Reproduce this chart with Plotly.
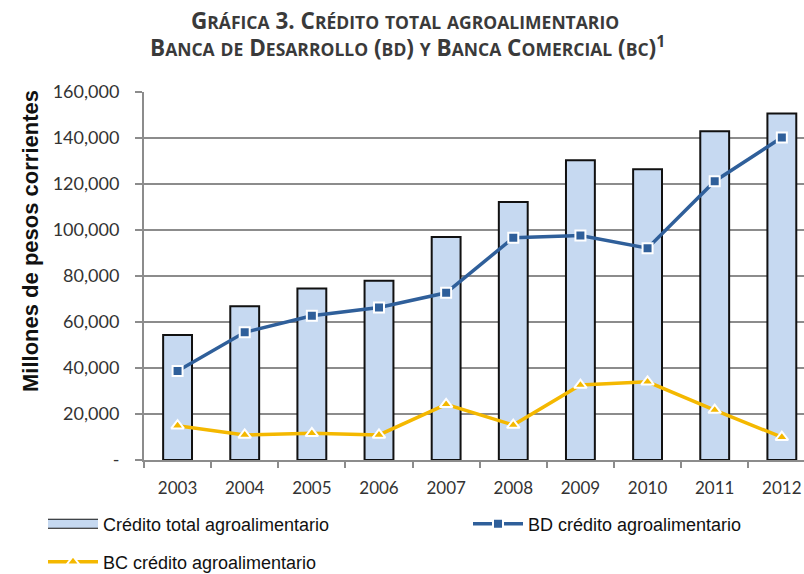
import plotly.graph_objects as go

# Valores (millones de pesos corrientes)
years = ["2003", "2004", "2005", "2006", "2007", "2008", "2009", "2010", "2011", "2012"]
credito_total = [54300, 66900, 74600, 77900, 97000, 112200, 130300, 126400, 142900, 150600]
bd_credito = [38700, 55500, 62700, 66300, 72700, 96600, 97600, 92100, 121200, 140200]
bc_credito = [14900, 10900, 11600, 10900, 24200, 15200, 32600, 34000, 21700, 9900]
y_ticks = [0, 20000, 40000, 60000, 80000, 100000, 120000, 140000, 160000]
y_tick_labels = ["-", "20,000", "40,000", "60,000", "80,000", "100,000", "120,000", "140,000", "160,000"]

x_pos = list(range(len(years)))

BLUE = "#2f5f9a"
GOLD = "#f4b800"
BAR_FILL = "#c6d9f1"
NARROW = "Liberation Sans Narrow, Arial Narrow, Liberation Sans, sans-serif"
SC = "Lato, Open Sans, sans-serif"

W, H = 804, 574
L, T, B = 144, 92, 114
PW, PH = W - L, H - T - B

fig = go.Figure()

fig.add_trace(
    go.Bar(
        x=x_pos,
        y=credito_total,
        name="Crédito total agroalimentario",
        width=0.43,
        marker=dict(color=BAR_FILL, line=dict(color="#111111", width=2)),
        showlegend=False,
    )
)
fig.add_trace(
    go.Scatter(
        x=x_pos,
        y=bd_credito,
        mode="lines+markers",
        name="BD crédito agroalimentario",
        line=dict(color=BLUE, width=3.5),
        marker=dict(symbol="square", size=10, color=BLUE, line=dict(color="white", width=2)),
        legend="legend2",
    )
)
fig.add_trace(
    go.Scatter(
        x=x_pos,
        y=bc_credito,
        mode="lines+markers",
        name="BC crédito agroalimentario",
        line=dict(color=GOLD, width=3.5),
        marker=dict(symbol="triangle-up", size=11, color=GOLD, line=dict(color="white", width=2)),
        legend="legend3",
    )
)

# Entrada de leyenda de las barras: rectángulo ancho con borde negro
fig.add_trace(
    go.Scatter(
        x=[None], y=[None], mode="lines", name="Crédito total agroalimentario",
        line=dict(color="#111111", width=12), legend="legend",
    )
)
fig.add_trace(
    go.Scatter(
        x=[None], y=[None], mode="lines", name="Crédito total agroalimentario",
        line=dict(color=BAR_FILL, width=8), legend="legend4",
    )
)


def small_caps(text, small=17.5):
    # Simula versalitas: minúsculas en mayúscula pequeña
    out = ""
    for ch in text:
        if ch.islower():
            out += f"<span style='font-size:{small}px'>{ch.upper()}</span>"
        else:
            out += ch
    return out


title_lines = [
    (small_caps("Gráfica 3. Crédito total agroalimentario"), 405, 20),
    (small_caps("Banca de Desarrollo (bd) y Banca Comercial (bc)") + "<sup>1</sup>", 407, 46),
]
for text, cx, cy in title_lines:
    fig.add_annotation(
        text=text,
        xref="paper",
        yref="paper",
        x=(cx - L) / PW,
        y=1 + (T - cy) / PH,
        xanchor="center",
        yanchor="middle",
        showarrow=False,
        font=dict(family="Open Sans, Lato, sans-serif", size=22.5, color="#3a3a3a", weight="bold"),
    )


def legend_box(text_x, text_y, color="#111111"):
    return dict(
        orientation="h",
        xref="container",
        yref="container",
        x=(text_x - 60) / W,
        xanchor="left",
        y=1 - text_y / H,
        yanchor="middle",
        itemwidth=50,
        font=dict(family=NARROW, size=18, color=color),
        bgcolor="rgba(0,0,0,0)",
    )


fig.update_layout(
    width=W,
    height=H,
    margin=dict(l=L, r=0, t=T, b=B, autoexpand=False),
    paper_bgcolor="white",
    plot_bgcolor="white",
    showlegend=True,
    legend=legend_box(103, 524),
    legend2=legend_box(528, 524),
    legend3=legend_box(103, 562),
    legend4=legend_box(103, 524, color="rgba(0,0,0,0)"),
)

fig.update_xaxes(
    range=[-0.5, 9.33],
    tickmode="array",
    tickvals=x_pos,
    ticktext=years,
    ticks="",
    ticklabelstandoff=12,
    automargin=False,
    showgrid=False,
    showline=True,
    linecolor="#8c8c8c",
    linewidth=2,
    tickfont=dict(family=SC, size=17, color="#333333"),
    zeroline=False,
)
# marcas del eje x entre categorías
fig.update_xaxes(
    minor=dict(
        tickmode="array",
        tickvals=[i - 0.5 for i in x_pos],
        ticks="outside",
        ticklen=6,
        tickwidth=2,
        tickcolor="#8c8c8c",
        showgrid=False,
    )
)

fig.update_yaxes(
    range=[0, 160000],
    tickmode="array",
    tickvals=y_ticks,
    ticktext=y_tick_labels,
    ticks="outside",
    ticklen=7,
    tickwidth=2,
    tickcolor="#8c8c8c",
    ticklabelstandoff=12,
    automargin=False,
    showgrid=True,
    gridcolor="#8c8c8c",
    gridwidth=1.5,
    showline=True,
    linecolor="#8c8c8c",
    linewidth=2,
    zeroline=False,
    tickfont=dict(family=SC, size=18, color="#333333"),
)

fig.add_annotation(
    text="Millones de pesos corrientes",
    xref="paper",
    yref="paper",
    x=(30 - L) / PW,
    y=(460 - 241) / PH,
    xanchor="center",
    yanchor="middle",
    textangle=-90,
    showarrow=False,
    font=dict(family=NARROW, size=22, color="#111111", weight="bold"),
)

# sin margen del body para que la figura ocupe toda la ventana
fig.write_html(
    "out.html",
    config={"displayModeBar": False},
    post_script="document.body.style.margin = '0';",
)
